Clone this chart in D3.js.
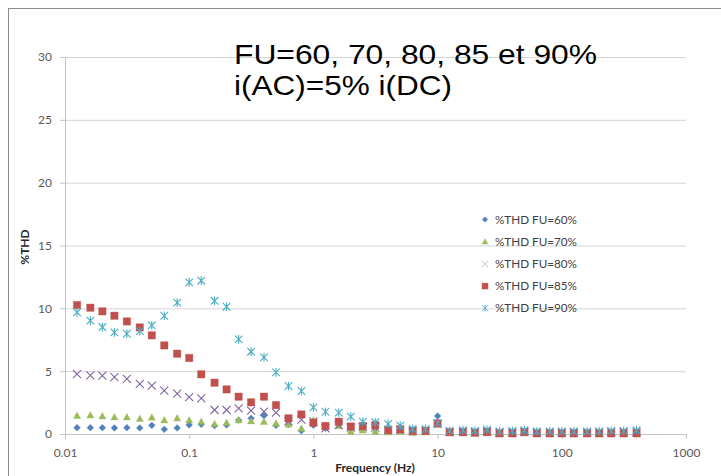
<!DOCTYPE html>
<html>
<head>
<meta charset="utf-8">
<script src="https://cdn.jsdelivr.net/npm/d3@7"></script>
<style>
  body { margin: 0; background: #fff; }
  svg { display: block; }
  .tick text { font-family: Lato, "Open Sans", sans-serif; font-size: 12px; fill: #595959; }
</style>
</head>
<body>
<div class="graph"></div>
<script>
let w = 721;
let h = 476;

// frequencies (Hz)
let freq = [0.0125, 0.016, 0.02, 0.025, 0.0315, 0.04, 0.05, 0.063, 0.08, 0.1,
  0.125, 0.16, 0.2, 0.25, 0.315, 0.4, 0.5, 0.63, 0.8, 1,
  1.25, 1.6, 2, 2.5, 3.15, 4, 5, 6.3, 8, 10,
  12.5, 16, 20, 25, 31.5, 40, 50, 63, 80, 100,
  125, 160, 200, 250, 315, 400];

let thd60 = [0.5, 0.5, 0.5, 0.48, 0.5, 0.48, 0.69, 0.37, 0.48, 0.72,
  0.77, 0.66, 0.72, 1.1, 1.25, 1.46, 0.69, 0.77, 0.26, 0.69,
  0.45, 0.75, 0.45, 0.5, 0.45, 0.25, 0.3, 0.2, 0.2, 1.43,
  0.1, 0.1, 0.1, 0.12, 0.08, 0.08, 0.1, 0.08, 0.08, 0.08,
  0.08, 0.08, 0.08, 0.08, 0.08, 0.08];

let thd70 = [1.46, 1.5, 1.43, 1.35, 1.35, 1.22, 1.32, 1.11, 1.27, 1.11,
  0.98, 0.8, 0.9, 1.11, 1.03, 0.98, 0.85, 0.77, 0.45, 1.1,
  0.55, 0.65, 0.2, 0.3, 0.2, 0.15, 0.2, 0.1, 0.15, 0.75,
  0.1, 0.1, 0.1, 0.12, 0.08, 0.08, 0.12, 0.08, 0.08, 0.08,
  0.08, 0.08, 0.08, 0.08, 0.08, 0.08];

let thd80 = [4.77, 4.67, 4.64, 4.53, 4.38, 3.98, 3.85, 3.45, 3.21, 2.94,
  2.84, 1.91, 1.91, 2.04, 1.86, 1.78, 1.7, 1.0, 1.15, 1.0,
  0.45, 0.7, 0.5, 0.55, 0.5, 0.3, 0.35, 0.25, 0.25, 0.8,
  0.15, 0.18, 0.15, 0.2, 0.12, 0.12, 0.18, 0.12, 0.12, 0.12,
  0.12, 0.12, 0.12, 0.15, 0.15, 0.15];

let thd85 = [10.26, 10.05, 9.76, 9.41, 8.96, 8.48, 7.85, 7.05, 6.39, 6.05,
  4.75, 4.08, 3.55, 2.97, 2.52, 2.97, 2.3, 1.25, 1.56, 0.9,
  0.64, 0.98, 0.6, 0.64, 0.7, 0.32, 0.37, 0.25, 0.25, 0.85,
  0.15, 0.15, 0.1, 0.15, 0.05, 0.05, 0.15, 0.05, 0.05, 0.05,
  0.05, 0.05, 0.05, 0.05, 0.05, 0.05];

let thd90 = [9.68, 9.02, 8.51, 8.09, 7.98, 8.19, 8.65, 9.41, 10.45, 12.07,
  12.2, 10.6, 10.13, 7.53, 6.55, 6.1, 4.9, 3.82, 3.42, 2.12,
  1.77, 1.7, 1.38, 0.98, 0.93, 0.8, 0.66, 0.4, 0.38, 0.85,
  0.25, 0.3, 0.25, 0.35, 0.2, 0.25, 0.3, 0.2, 0.2, 0.2,
  0.2, 0.2, 0.2, 0.25, 0.25, 0.3];

let seriesNames = ["%THD FU=60%", "%THD FU=70%", "%THD FU=80%", "%THD FU=85%", "%THD FU=90%"];
let seriesColors = ["#4F81BD", "#9BBB59", "#8064A2", "#C0504D", "#4BACC6"];
let seriesMarkers = ["diamond", "triangle", "x", "square", "star"];
let seriesValues = [thd60, thd70, thd80, thd85, thd90];

let xTicks = [0.01, 0.1, 1, 10, 100, 1000];
let xTickLabels = ["0.01", "0.1", "1", "10", "100", "1000"];
let yTicks = [0, 5, 10, 15, 20, 25, 30];

let titleLines = ["FU=60, 70, 80, 85 et 90%", "i(AC)=5% i(DC)"];

let svgvar = d3
  .select(".graph")
  .append("svg")
  .attr("width", w)
  .attr("height", h);

// outer chart border
svgvar
  .append("rect")
  .attr("x", 8.5)
  .attr("y", 8.5)
  .attr("width", 730)
  .attr("height", 490)
  .attr("fill", "none")
  .attr("stroke", "#8c8c8c")
  .attr("stroke-width", 1);

let xScale = d3.scaleLog().domain([0.01, 1000]).range([65, 686]);
let yScale = d3.scaleLinear().domain([0, 30]).range([434, 57]);

// gridlines
svgvar
  .append("g")
  .attr("transform", "translate(65, 0)")
  .call(d3.axisLeft(yScale).tickValues(yTicks.slice(1)).tickSize(-621).tickFormat(""))
  .call((g) => g.select(".domain").remove())
  .selectAll("line")
  .attr("stroke", "#d4d4d4");

let yAxis = d3
  .axisLeft(yScale)
  .tickValues(yTicks)
  .tickSize(5)
  .tickSizeOuter(0)
  .tickPadding(8);

svgvar
  .append("g")
  .attr("id", "y-axis")
  .attr("transform", "translate(65, 0)")
  .call(yAxis)
  .call((g) => g.selectAll("line").attr("stroke", "#c4c4c4"))
  .call((g) => g.select(".domain").attr("stroke", "#c4c4c4"));

let xAxis = d3
  .axisBottom(xScale)
  .tickValues(xTicks)
  .tickFormat((d, i) => xTickLabels[i])
  .tickSize(5)
  .tickSizeOuter(0)
  .tickPadding(9);

svgvar
  .append("g")
  .attr("id", "x-axis")
  .attr("transform", "translate(0, 434)")
  .call(xAxis)
  .call((g) => g.selectAll("line").attr("stroke", "#c4c4c4"))
  .call((g) => g.select(".domain").attr("stroke", "#c4c4c4"));

// axis titles
svgvar
  .append("text")
  .attr("x", 375)
  .attr("y", 472)
  .attr("text-anchor", "middle")
  .style("font-family", "Lato, sans-serif")
  .style("font-weight", "bold")
  .style("font-size", "12px")
  .style("fill", "#262626")
  .text("Frequency (Hz)");

svgvar
  .append("text")
  .attr("transform", "translate(29, 247) rotate(-90)")
  .attr("text-anchor", "middle")
  .style("font-family", "Lato, sans-serif")
  .style("font-weight", "bold")
  .style("font-size", "12px")
  .style("fill", "#262626")
  .text("%THD");

function markerPath(type, s) {
  if (type == "diamond") {
    return "M0," + -s + "L" + s + ",0L0," + s + "L" + -s + ",0Z";
  } else if (type == "triangle") {
    return "M0," + -s + "L" + s + "," + s * 0.8 + "L" + -s + "," + s * 0.8 + "Z";
  } else if (type == "square") {
    return "M" + -s + "," + -s + "H" + s + "V" + s + "H" + -s + "Z";
  } else if (type == "x") {
    return "M" + -s + "," + -s + "L" + s + "," + s + "M" + s + "," + -s + "L" + -s + "," + s;
  } else {
    return "M" + -s + "," + -s + "L" + s + "," + s + "M" + s + "," + -s + "L" + -s + "," + s +
      "M0," + -s * 1.15 + "V" + s * 1.15;
  }
}

let markerSize = { diamond: 3.4, triangle: 3.6, x: 4, square: 3.7, star: 3.8 };

function drawMarker(sel, type, color) {
  let filled = type == "diamond" || type == "triangle" || type == "square";
  sel
    .attr("d", markerPath(type, markerSize[type]))
    .attr("fill", filled ? color : "none")
    .attr("stroke", color)
    .attr("stroke-width", filled ? 0.6 : 1.1)
    .attr("stroke-opacity", filled ? 0.6 : 1);
}

seriesValues.forEach(function (vals, k) {
  let pts = freq.map((f, i) => ({ f: f, v: vals[i] }));
  svgvar
    .append("g")
    .selectAll("path")
    .data(pts)
    .enter()
    .append("path")
    .attr("transform", (d) => "translate(" + xScale(d.f) + "," + yScale(d.v) + ")")
    .call(drawMarker, seriesMarkers[k], seriesColors[k]);
});

// legend
let legend = svgvar.append("g").attr("transform", "translate(485, 219.5)");
seriesNames.forEach(function (name, k) {
  let row = legend.append("g").attr("transform", "translate(0," + k * 22.2 + ")");
  row
    .append("path")
    .attr("transform", "scale(0.8)")
    .call(drawMarker, seriesMarkers[k], seriesColors[k])
    .attr("stroke-opacity", k == 2 ? 0.45 : null);
  row
    .append("text")
    .attr("x", 10)
    .attr("y", 4)
    .style("font-family", "Lato, sans-serif")
    .style("font-size", "11.7px")
    .style("fill", "#404040")
    .text(name);
});

// title
svgvar
  .append("text")
  .attr("x", 234)
  .attr("y", 64)
  .attr("textLength", 363)
  .attr("lengthAdjust", "spacingAndGlyphs")
  .style("font-family", "'Liberation Sans', Arial, sans-serif")
  .style("font-size", "28.5px")
  .style("fill", "#000")
  .text(titleLines[0]);

svgvar
  .append("text")
  .attr("x", 234)
  .attr("y", 95)
  .attr("textLength", 218)
  .attr("lengthAdjust", "spacingAndGlyphs")
  .style("font-family", "'Liberation Sans', Arial, sans-serif")
  .style("font-size", "28.5px")
  .style("fill", "#000")
  .text(titleLines[1]);
</script>
</body>
</html>
